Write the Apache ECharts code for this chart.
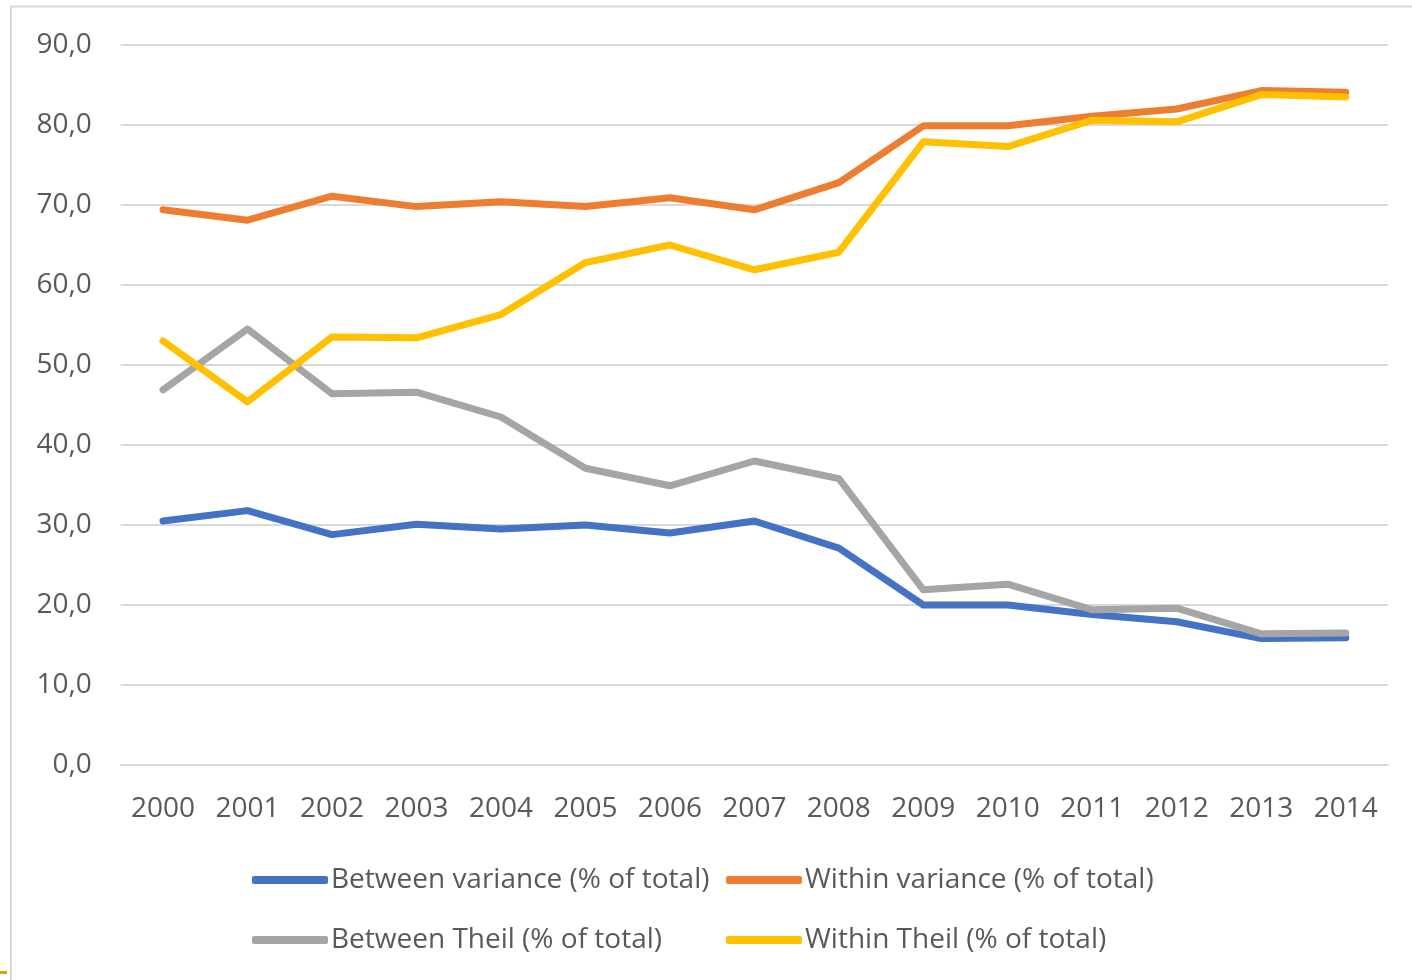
<!DOCTYPE html>
<html>
<head>
<meta charset="utf-8">
<style>
  html, body { margin: 0; padding: 0; background: #ffffff; }
  #chart { width: 1412px; height: 980px; }
</style>
<script src="https://cdn.jsdelivr.net/npm/echarts@6/dist/echarts.min.js"></script>
</head>
<body>
<div id="chart"></div>
<script>
// Years on the category axis
const years = ['2000','2001','2002','2003','2004','2005','2006','2007','2008','2009','2010','2011','2012','2013','2014'];

// Shares of total inequality (%)
const betweenVariance = [30.5, 31.8, 28.8, 30.1, 29.5, 30.0, 29.0, 30.5, 27.1, 20.0, 20.0, 18.8, 17.9, 15.8, 15.9];
const withinVariance  = [69.4, 68.1, 71.1, 69.8, 70.4, 69.8, 70.9, 69.4, 72.8, 79.9, 79.9, 81.1, 82.0, 84.3, 84.1];
const betweenTheil    = [46.9, 54.5, 46.4, 46.6, 43.5, 37.1, 34.9, 38.0, 35.8, 21.9, 22.6, 19.4, 19.6, 16.4, 16.5];
const withinTheil     = [53.0, 45.4, 53.5, 53.4, 56.3, 62.8, 65.0, 61.9, 64.1, 77.9, 77.3, 80.6, 80.4, 83.8, 83.5];

const seriesNames = [
  'Between variance (% of total)',
  'Within variance (% of total)',
  'Between Theil (% of total)',
  'Within Theil (% of total)'
];
const colors = ['#4472C4', '#ED7D31', '#A5A5A5', '#FFC000'];
const values = [betweenVariance, withinVariance, betweenTheil, withinTheil];

const FONT = '"Open Sans", "Noto Sans", sans-serif';
const TEXT = '#595959';
const GRID = '#D9D9D9';

const chart = echarts.init(document.getElementById('chart'), null, { renderer: 'canvas' });

function legendItem(idx, left, top) {
  return {
    left: left, top: top,
    padding: 0,
    data: [{ name: seriesNames[idx], icon: 'roundRect' }],
    itemWidth: 76, itemHeight: 8,
    itemGap: 0,
    selectedMode: false,
    textStyle: { color: TEXT, fontSize: 28, fontFamily: FONT, padding: [0, 0, 0, -2] }
  };
}

chart.setOption({
  animation: false,
  backgroundColor: '#ffffff',
  color: colors,
  grid: { left: 120.75, right: 24, top: 45, bottom: 215 },
  legend: [
    legendItem(0, 252, 866),
    legendItem(1, 726, 866),
    legendItem(2, 252, 926),
    legendItem(3, 726, 926)
  ],
  xAxis: {
    type: 'category',
    data: years,
    boundaryGap: true,
    axisLine: { show: true, lineStyle: { color: GRID, width: 2 } },
    axisTick: { show: false },
    axisLabel: { color: TEXT, fontSize: 28, fontFamily: FONT, margin: 30 }
  },
  yAxis: {
    type: 'value',
    min: 0, max: 90, interval: 10,
    axisLine: { show: false },
    axisTick: { show: false },
    axisLabel: {
      color: TEXT, fontSize: 28, fontFamily: FONT, margin: 29,
      formatter: v => v.toFixed(1).replace('.', ',')
    },
    splitLine: { lineStyle: { color: GRID, width: 2 } }
  },
  series: values.map((arr, i) => ({
    name: seriesNames[i],
    type: 'line',
    data: arr,
    symbol: 'none',
    lineStyle: { width: 7, color: colors[i], cap: 'round', join: 'round' },
    itemStyle: { color: colors[i] },
    z: 2 + i
  })),
  graphic: [
    // outer frame (top and left edges)
    { type: 'line', shape: { x1: 10, y1: 6.5, x2: 1412, y2: 6.5 }, style: { stroke: GRID, lineWidth: 2 } },
    { type: 'line', shape: { x1: 11, y1: 6.5, x2: 11, y2: 980 }, style: { stroke: GRID, lineWidth: 2 } },
    { type: 'rect', shape: { x: 0, y: 971, width: 7, height: 3 }, style: { fill: '#D4A20A' } }
  ]
});
</script>
</body>
</html>
